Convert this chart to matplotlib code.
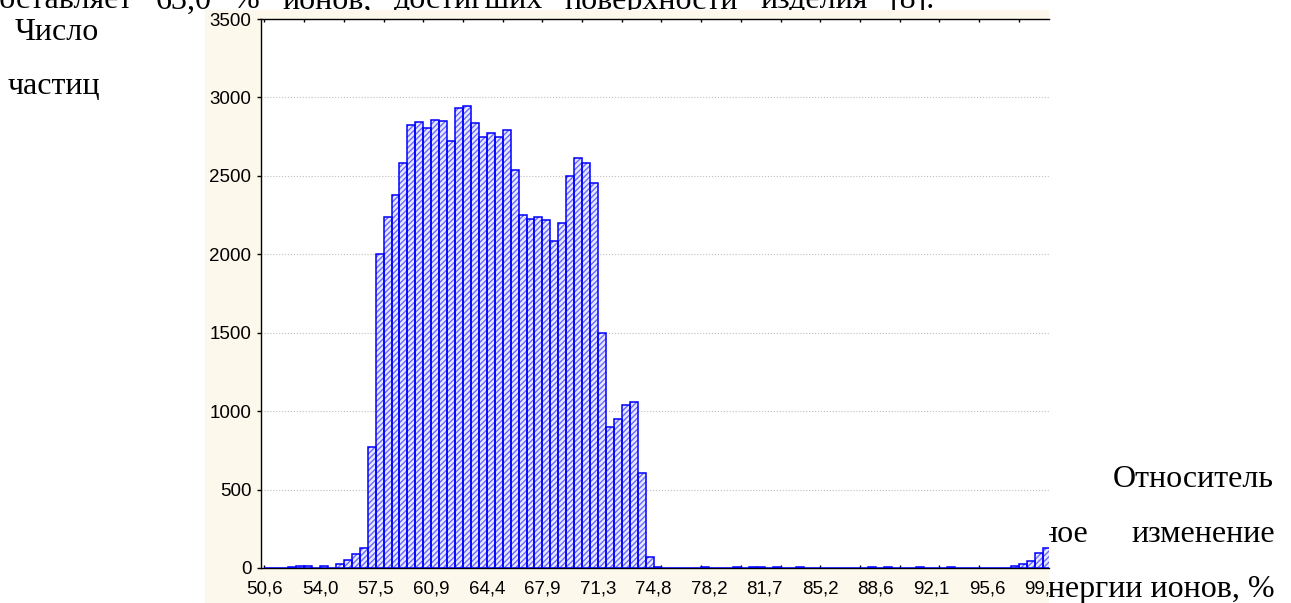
import numpy as np
import matplotlib.pyplot as plt
from matplotlib.patches import Rectangle
from matplotlib.transforms import Bbox, TransformedBbox

plt.rcParams['font.family'] = 'Liberation Sans'

#-----histogram data (bin 0 starts at 50,6 %)-----
counts = [2, 3, 3, 5, 12, 10, 2, 12, 3, 27,
          51, 87, 130, 770, 2000, 2235, 2375, 2585, 2825, 2845,
          2805, 2855, 2850, 2725, 2935, 2945, 2840, 2750, 2775, 2745,
          2790, 2540, 2250, 2222, 2235, 2220, 2085, 2200, 2498, 2612,
          2584, 2456, 1496, 901, 952, 1039, 1056, 604, 70, 5,
          0, 0, 0, 0, 0, 8, 3, 0, 0, 8,
          3, 5, 5, 0, 5, 3, 0, 5, 0, 0,
          3, 0, 0, 0, 0, 3, 8, 3, 8, 0,
          3, 0, 6, 3, 0, 0, 5, 0, 3, 0,
          0, 3, 0, 3, 13, 24, 47, 94, 125]
x_labels = ['50,6', '54,0', '57,5', '60,9', '64,4', '67,9', '71,3', '74,8',
            '78,2', '81,7', '85,2', '88,6', '92,1', '95,6', '99,0']
y_ticks = [0, 500, 1000, 1500, 2000, 2500, 3000, 3500]
top_words = ['составляет', '63,0', '%', 'ионов,', 'достигших',
             'поверхности', 'изделия', '[8].']

W, H = 1291, 603
fig = plt.figure(figsize=(W / 100, H / 100), dpi=100)


def fx(px):
    return px / W


def fy(py):
    return 1 - py / H


#-----pasted chart picture (cream background)-----
fig.patches.append(Rectangle((fx(205), 0), fx(1049) - fx(205), fy(10),
                             transform=fig.transFigure, facecolor='#fdf8ec',
                             edgecolor='none', zorder=1))

ax = fig.add_axes([fx(260.5), fy(568), fx(1049) - fx(260.5), fy(19) - fy(568)],
                  zorder=2)
ax.set_facecolor('white')

idx = np.arange(len(counts))
ax.bar(idx, counts, width=1, align='edge', facecolor='#e8e8ff',
       edgecolor='#6a6aff', hatch='//////', linewidth=0, zorder=2)
ax.bar(idx, counts, width=1, align='edge', facecolor='none',
       edgecolor='#0000ff', linewidth=1.1, zorder=3)

ax.set_xlim(-0.5, 98.8)
ax.set_ylim(0, 3500)
ax.set_yticks(y_ticks)
ax.yaxis.grid(True, linestyle=':', color='#bdbdbd', linewidth=0.8)
ax.set_axisbelow(True)

ax.xaxis.remove_overlapping_locs = False
ax.set_xticks(np.arange(0, 99, 5))
ax.set_xticks(np.arange(0, 99, 7), labels=x_labels, minor=True)
ax.tick_params(axis='x', which='major', direction='in', length=2.5, width=1,
               top=True, bottom=True, labelbottom=False)
ax.tick_params(axis='x', which='minor', length=0, pad=9, labelsize=13.5)
ax.tick_params(axis='y', direction='out', length=3, width=1, pad=3.5,
               labelsize=13.5)
for s in ['left', 'bottom', 'top']:
    ax.spines[s].set_linewidth(1.0)
ax.spines['right'].set_visible(False)

# picture is cut at its right edge
clip = TransformedBbox(Bbox([[fx(205), 0], [fx(1049), 1]]), fig.transFigure)
for t in ax.xaxis.get_minor_ticks():
    t.label1.set_clip_box(clip)
    t.label1.set_clip_on(True)

#-----surrounding document text-----
tkw = dict(family='Liberation Serif', fontsize=23, va='baseline', zorder=0.5)
fig.text(fx(15), fy(40), 'Число', **tkw)
fig.text(fx(8), fy(94), 'частиц', **tkw)
fig.text(fx(1113), fy(487), 'Относитель', **tkw)
fig.text(fx(1040), fy(541.5), 'ное', **tkw)
fig.text(fx(1275), fy(541.5), 'изменение', ha='right', **tkw)
fig.text(fx(1275), fy(596.5), 'энергии ионов, %', ha='right', **tkw)

# justified line of text above the picture
top_txt = [fig.text(0, fy(8.5), w, **tkw) for w in top_words]
r = fig.canvas.get_renderer()
widths = [t.get_window_extent(r).width for t in top_txt]
x0, x1 = -14, 935
gap = (x1 - x0 - sum(widths)) / (len(widths) - 1)
x = x0
for t, w in zip(top_txt, widths):
    t.set_x(fx(x))
    x += w + gap

fig.savefig('out.png', dpi=100)
